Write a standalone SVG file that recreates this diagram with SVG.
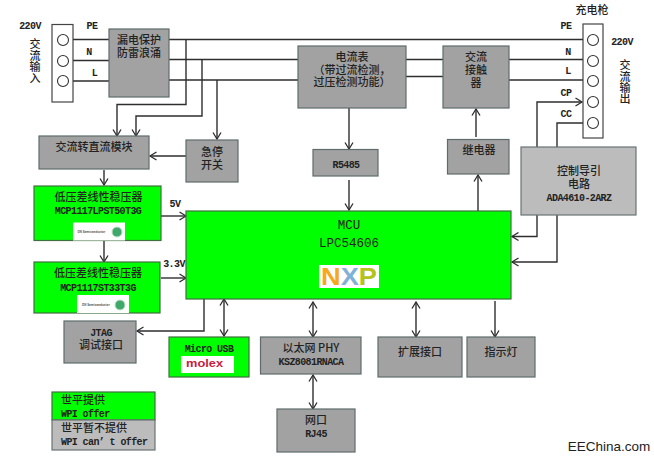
<svg xmlns="http://www.w3.org/2000/svg" width="654" height="459" viewBox="0 0 654 459">
<style>
text{font-family:"Noto Sans CJK SC","Liberation Sans",sans-serif;font-size:11px;font-weight:500;fill:#222;text-anchor:middle}
.m{font-family:"Liberation Mono","Noto Sans CJK SC",monospace;font-size:10px;letter-spacing:-0.6px;font-weight:700}
.r{font-family:"Liberation Mono",monospace;font-size:12.5px;font-weight:400}
.l{text-anchor:start}
.vt{writing-mode:vertical-rl;letter-spacing:0.1px}
.g{fill:#a2a2a2;stroke:#5f6b6b;stroke-width:1.2}
.lg{fill:#bcbcbc;stroke:#6a7474;stroke-width:1.2}
.v{fill:#00ff00;stroke:#3f6f3f;stroke-width:1.2}
.t{fill:#fff;stroke:#444;stroke-width:1.2}
.w{fill:#fff;stroke:none}
.c{fill:#fff;stroke:#333;stroke-width:1.1}
.on{font-size:3px;font-weight:700;fill:#555;text-anchor:start}
.oc{fill:#3fa86a;stroke:#bfe0c8;stroke-width:1}
#wires path{fill:none;stroke:#2e2e2e;stroke-width:1.4}
.a{marker-end:url(#ah)}
.b{marker-end:url(#ah);marker-start:url(#ah)}
</style>
<defs>
<marker id="ah" markerUnits="userSpaceOnUse" markerWidth="10" markerHeight="10" refX="7.5" refY="5" orient="auto-start-reverse">
<path d="M1 1 L7.5 5 L1 9" fill="none" stroke="#2e2e2e" stroke-width="1.3"/>
</marker>
</defs>
<rect width="654" height="459" fill="#fff"/>
<g id="wires">
<path d="M73 39.500H109M73 60.500H109M73 81H109"/>
<path d="M168 39.500H583M169 59.500H298M168 80H298"/>
<path d="M406 59.500H443M406 76.500H443M503 59.500H583M503 80H583"/>
<path class="a" d="M186 39.500V104.500H117V136"/>
<path class="a" d="M202 59.500V116H136V136"/>
<path class="a" d="M217 80V139"/>
<path class="a" d="M186 156H150"/>
<path class="a" d="M104 170V185"/>
<path class="a" d="M161 216H186"/>
<path class="a" d="M104 241V262"/>
<path class="a" d="M161 278H186"/>
<path class="a" d="M349 108V149"/>
<path class="a" d="M349 180V210"/>
<path class="a" d="M478 211V175"/>
<path class="a" d="M476 137V109"/>
<path class="a" d="M537 147V102H582"/>
<path d="M557 147V123H583"/>
<path class="a" d="M537 215V236.500H512"/>
<path class="a" d="M557 215V262H512"/>
<path class="a" d="M204 299V331H137"/>
<path class="b" d="M224 299V336"/>
<path class="b" d="M313 302V337"/>
<path class="b" d="M313 375V409"/>
<path class="b" d="M416 302V337"/>
<path class="a" d="M495 301V337"/>
</g>
<g id="input-terminal">
<rect class="t" x="52" y="24.500" width="21" height="77.500"/>
<circle class="c" cx="63" cy="40" r="5.500"/><circle class="c" cx="63" cy="61" r="5.500"/><circle class="c" cx="63" cy="81" r="5.500"/>
<text class="m" x="30" y="29">220V</text>
<text class="m" x="92" y="29">PE</text><text class="m" x="89" y="55">N</text><text class="m" x="94.500" y="76">L</text>
<text class="vt" x="35" y="61">交流输入</text>
</g>
<g id="surge"><rect class="g" x="109" y="29" width="60" height="68"/><text x="139" y="43.500">漏电保护</text><text x="139" y="57">防雷浪涌</text></g>
<g id="acdc"><rect class="g" x="39" y="136" width="110" height="33"/><text x="94" y="151">交流转直流模块</text></g>
<g id="estop"><rect class="g" x="186" y="140" width="52" height="42"/><text x="212" y="156">急停</text><text x="212" y="168.500">开关</text></g>
<g id="ldo1"><rect class="v" x="34" y="186" width="127" height="54.500"/><text x="98.500" y="201">低压差线性稳压器</text><text class="m" x="98" y="213.500">MCP1117LPST50T3G</text>
<rect class="w" x="73" y="222.500" width="52" height="18"/><text class="on" x="77.500" y="233">ON Semiconductor</text><circle class="oc" cx="117" cy="232" r="5"/></g>
<g id="ldo2"><rect class="v" x="34" y="262" width="126" height="51"/><text x="98" y="277">低压差线性稳压器</text><text class="m" x="98" y="290.500">MCP1117ST33T3G</text>
<rect class="w" x="77" y="295" width="52" height="18"/><text class="on" x="82" y="306">ON Semiconductor</text><circle class="oc" cx="120" cy="305" r="5"/></g>
<text class="m" x="175" y="207">5V</text>
<text class="m" x="174" y="267">3.3V</text>
<g id="mcu"><rect class="v" x="186" y="211" width="325" height="88"/><text class="r" x="349" y="229">MCU</text><text class="r" x="349" y="247">LPC54606</text>
<rect class="w" x="319" y="265" width="60" height="23"/>
<text x="349" y="285" textLength="56" lengthAdjust="spacingAndGlyphs" style="font-family:'Liberation Sans',sans-serif;font-size:23px;font-weight:700"><tspan fill="#f5a81c">N</tspan><tspan fill="#7fb2d8">X</tspan><tspan fill="#b5c21c">P</tspan></text></g>
<g id="meter"><rect class="g" x="298" y="46" width="108" height="62"/><text x="352" y="61">电流表</text><text x="352" y="73.500">（带过流检测，</text><text x="352" y="86">过压检测功能）</text></g>
<g id="contactor"><rect class="g" x="443" y="46" width="66" height="62"/><text x="476" y="61">交流</text><text x="476" y="74">接触</text><text x="476" y="87">器</text></g>
<g id="rs485"><rect class="g" x="313" y="149.500" width="65" height="26.500"/><text class="m" x="346" y="168">R5485</text></g>
<g id="relay"><rect class="g" x="447.500" y="139.500" width="61.500" height="34.500"/><text x="479" y="154">继电器</text></g>
<g id="pilot"><rect class="lg" x="521" y="147" width="115" height="68"/><text x="579" y="175">控制导引</text><text x="579" y="188">电路</text><text class="m" x="579" y="201">ADA4610-2ARZ</text></g>
<g id="output-terminal">
<rect class="t" x="583" y="24" width="20" height="114"/>
<circle class="c" cx="593" cy="40" r="5.500"/><circle class="c" cx="593" cy="61" r="5.500"/><circle class="c" cx="593" cy="81" r="5.500"/><circle class="c" cx="593" cy="102" r="5.500"/><circle class="c" cx="593" cy="123" r="5.500"/>
<text x="592" y="13.500">充电枪</text>
<text class="m" x="566" y="29">PE</text><text class="m" x="568" y="55">N</text><text class="m" x="568" y="74">L</text><text class="m" x="566" y="96">CP</text><text class="m" x="566" y="117">CC</text>
<text class="m" x="622" y="45">220V</text>
<text class="vt" x="625" y="82">交流输出</text>
</g>
<g id="jtag"><rect class="g" x="64" y="321" width="72" height="42"/><text class="m" x="101" y="335.500">JTAG</text><text x="101" y="349">调试接口</text></g>
<g id="usb"><rect class="v" x="169" y="337" width="80" height="40"/><text class="m" x="209" y="351.500">Micro USB</text>
<rect class="w" x="181" y="356" width="53" height="17"/><text x="204.500" y="367" textLength="37" lengthAdjust="spacingAndGlyphs" style="font-family:'Liberation Sans',sans-serif;font-weight:700;font-size:11px;fill:#c8203c">molex</text></g>
<g id="phy"><rect class="g" x="260.500" y="337" width="100.500" height="37"/><text x="311" y="352">以太网 PHY</text><text class="m" x="311" y="364.500">KSZ8081RNACA</text></g>
<g id="rj45"><rect class="g" x="277" y="409" width="78" height="43"/><text x="316" y="424">网口</text><text class="m" x="316" y="437">RJ45</text></g>
<g id="ext"><rect class="g" x="378" y="337" width="84" height="40"/><text x="420" y="355.500">扩展接口</text></g>
<g id="led"><rect class="g" x="467" y="337" width="68" height="40"/><text x="501" y="355.500">指示灯</text></g>
<g id="legend">
<rect class="v" x="52" y="392" width="103" height="28"/><rect class="lg" x="52" y="420" width="103" height="30"/>
<text class="l" x="61" y="404">世平提供</text><text class="m l" x="61" y="416.500">WPI offer</text>
<text class="l" x="61" y="432">世平暂不提供</text><text class="m l" x="61" y="445">WPI can’ t offer</text>
</g>
<text x="609" y="451" style="font-family:'Liberation Sans',sans-serif;font-size:13.500px;font-weight:400">EEChina.com</text>
</svg>
